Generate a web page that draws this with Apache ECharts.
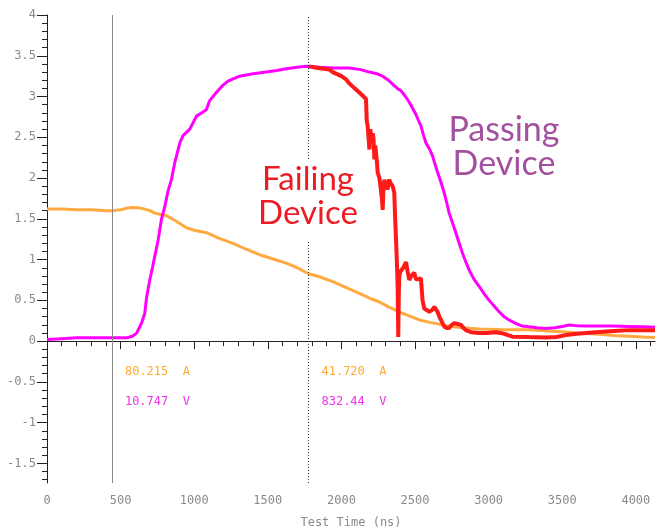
<!DOCTYPE html>
<html>
<head>
<meta charset="utf-8">
<script src="https://cdn.jsdelivr.net/npm/echarts@6/dist/echarts.min.js"></script>
<style>
html,body{margin:0;padding:0;background:#fff;}
#chart{width:656px;height:530px;}
</style>
</head>
<body>
<div id="chart"></div>
<script>
// ---- Data ----
var xTicks = [0, 500, 1000, 1500, 2000, 2500, 3000, 3500, 4000];
var yTicks = [-1.5, -1, -0.5, 0, 0.5, 1, 1.5, 2, 2.5, 3, 3.5, 4];

// Passing device voltage (magenta)
var passT = [0,100,200,300,400,540,580,608,642,664,676,698,716,732,755,777,800,822,845,868,902,924,970,1015,1060,1083,1105,1150,1190,1229,1308,1400,1489,1560,1625,1700,1760,1851,1950,2054,2130,2190,2240,2280,2320,2348,2380,2405,2435,2461,2485,2506,2525,2540,2557,2574,2600,2619,2636,2653,2676,2698,2715,2732,2755,2777,2800,2822,2845,2868,2900,2936,2970,3003,3037,3071,3105,3139,3180,3229,3275,3330,3388,3450,3500,3546,3600,3659,3750,3840,3950,4050,4130];
var passV = [0.02,0.03,0.04,0.04,0.04,0.04,0.06,0.095,0.22,0.34,0.53,0.75,0.9,1.04,1.24,1.49,1.65,1.84,1.98,2.19,2.43,2.52,2.6,2.76,2.81,2.84,2.95,3.05,3.13,3.19,3.25,3.28,3.3,3.32,3.34,3.36,3.37,3.36,3.35,3.35,3.33,3.3,3.28,3.25,3.2,3.15,3.1,3.07,3.0,2.93,2.85,2.78,2.7,2.64,2.53,2.43,2.35,2.27,2.17,2.07,1.95,1.82,1.7,1.57,1.45,1.33,1.2,1.08,0.97,0.87,0.76,0.67,0.58,0.5,0.43,0.36,0.3,0.26,0.22,0.185,0.175,0.165,0.156,0.165,0.18,0.197,0.19,0.185,0.185,0.185,0.18,0.175,0.17];

// Failing device voltage (red)
var failT = [1780,1840,1919,1941,2000,2032,2054,2090,2122,2150,2167,2172,2178,2184,2190,2196,2201,2207,2213,2218,2224,2230,2235,2241,2246,2258,2269,2275,2280,2286,2292,2303,2314,2320,2325,2336,2348,2359,2365,2371,2377,2382,2386,2390,2393,2399,2405,2420,2439,2450,2461,2475,2495,2505,2520,2540,2551,2563,2574,2597,2615,2631,2642,2653,2665,2676,2687,2698,2715,2732,2750,2766,2790,2811,2830,2845,2880,2936,2990,3049,3094,3130,3162,3275,3388,3460,3523,3600,3727,3850,3953,4050,4130];
var failV = [3.37,3.35,3.33,3.3,3.25,3.21,3.16,3.1,3.05,3.0,2.97,2.7,2.64,2.5,2.35,2.6,2.6,2.45,2.55,2.48,2.23,2.4,2.39,2.2,2.07,2.0,1.98,1.75,1.61,1.9,1.98,1.9,1.86,1.95,1.98,1.93,1.9,1.82,1.5,1.24,0.95,0.67,0.05,0.6,0.79,0.85,0.87,0.9,0.97,0.85,0.75,0.8,0.84,0.76,0.76,0.77,0.5,0.4,0.38,0.36,0.38,0.42,0.4,0.36,0.3,0.26,0.22,0.18,0.16,0.16,0.2,0.22,0.21,0.2,0.16,0.135,0.11,0.1,0.1,0.11,0.095,0.075,0.055,0.05,0.046,0.05,0.074,0.09,0.11,0.125,0.135,0.135,0.135];

// Current (orange)
var curT = [0,100,200,300,400,441,500,540,574,620,651,700,732,780,811,870,947,1000,1083,1170,1263,1350,1444,1530,1625,1700,1772,1850,1941,2030,2122,2200,2258,2320,2393,2460,2529,2600,2710,2820,2936,3100,3275,3400,3500,3600,3727,3850,3950,4050,4130];
var curV = [1.62,1.62,1.61,1.61,1.6,1.6,1.61,1.63,1.64,1.635,1.625,1.6,1.57,1.55,1.54,1.48,1.39,1.36,1.33,1.26,1.2,1.13,1.06,1.01,0.957,0.9,0.83,0.79,0.73,0.66,0.587,0.52,0.48,0.42,0.36,0.31,0.26,0.23,0.19,0.165,0.148,0.14,0.14,0.125,0.115,0.1,0.086,0.07,0.06,0.05,0.046];

var cursorTimes = [441, 1776];
var readouts = [["80.215  A", "10.747  V"], ["41.720  A", "832.44  V"]];
var xRange = [0, 4130];
var yRange = [-1.74, 4];

function zip(a, b) { return a.map(function (v, i) { return [v, b[i]]; }); }
function range(a, b, s) { var r = []; for (var v = a; v <= b + 1e-9; v += s) r.push(Math.round(v * 1000) / 1000); return r; }
var xMinor = range(0, 4100, 100);
var yMinor = range(-1.7, 4, 0.1);

var labelFont = { color: '#8a8a8a', fontFamily: 'DejaVu Sans Mono', fontSize: 12 };
var chart = echarts.init(document.getElementById('chart'), null, { renderer: 'canvas' });

var option = {
  animation: false,
  backgroundColor: '#fff',
  grid: { left: 47, right: 1, top: 15, bottom: 47, containLabel: false, outerBoundsMode: 'none' },
  xAxis: [
    {
      type: 'value', min: xRange[0], max: xRange[1], position: 'bottom',
      axisLine: { show: true, lineStyle: { color: '#222', width: 1 } },
      axisTick: { show: true, length: 8, customValues: xTicks, lineStyle: { color: '#222' } },
      axisLabel: Object.assign({ customValues: xTicks, margin: 12, formatter: function (v) { return String(v); } }, labelFont),
      splitLine: { show: false },
      name: 'Test Time (ns)', nameLocation: 'middle', nameGap: 34,
      nameTextStyle: { color: '#8a8a8a', fontFamily: 'DejaVu Sans Mono', fontSize: 12 }
    },
    {
      type: 'value', min: xRange[0], max: xRange[1], position: 'bottom',
      axisLine: { show: false },
      axisTick: { show: true, length: 5, customValues: xMinor, lineStyle: { color: '#222' } },
      axisLabel: { show: false }, splitLine: { show: false }
    }
  ],
  yAxis: [
    {
      type: 'value', min: yRange[0], max: yRange[1], position: 'left',
      axisLine: { show: true, lineStyle: { color: '#222', width: 1 } },
      axisTick: { show: true, length: 10, customValues: yTicks, lineStyle: { color: '#222' } },
      axisLabel: Object.assign({ customValues: yTicks, margin: 11, formatter: function (v) { return String(v); } }, labelFont),
      splitLine: { show: false }
    },
    {
      type: 'value', min: yRange[0], max: yRange[1], position: 'left',
      axisLine: { show: false },
      axisTick: { show: true, length: 5, customValues: yMinor, lineStyle: { color: '#222' } },
      axisLabel: { show: false }, splitLine: { show: false }
    }
  ],
  series: [
    {
      name: 'Current', type: 'line', data: zip(curT, curV), showSymbol: false,
      lineStyle: { color: '#ffaa40', width: 3 }, z: 3,
      markLine: {
        silent: true, symbol: ['none', 'none'], label: { show: false },
        data: [
          { xAxis: cursorTimes[0], lineStyle: { color: '#888', width: 1, type: 'solid' } },
          { xAxis: cursorTimes[1], lineStyle: { color: '#333', width: 1, type: [1, 2] } }
        ]
      }
    },
    {
      name: 'Passing', type: 'line', data: zip(passT, passV), showSymbol: false,
      lineStyle: { color: '#ff00ff', width: 3 }, z: 4
    },
    {
      name: 'Failing', type: 'line', data: zip(failT, failV), showSymbol: false,
      lineStyle: { color: '#ff1a1a', width: 4 }, z: 5
    }
  ]
};
chart.setOption(option);

// cursor readouts and annotations (positioned relative to cursors)
var g = [];
cursorTimes.forEach(function (t, i) {
  var px = chart.convertToPixel({ xAxisIndex: 0 }, t);
  g.push({ type: 'text', x: px + 13, y: 372, z: 50, style: { text: readouts[i][0], fill: '#ffaa33', font: '12px "DejaVu Sans Mono"', textVerticalAlign: 'middle' } });
  g.push({ type: 'text', x: px + 13, y: 402, z: 50, style: { text: readouts[i][1], fill: '#ee33ee', font: '12px "DejaVu Sans Mono"', textVerticalAlign: 'middle' } });
});
var cx = chart.convertToPixel({ xAxisIndex: 0 }, cursorTimes[1]);
g.push({ type: 'rect', z: 40, shape: { x: cx - 4, y: 160, width: 8, height: 82 }, style: { fill: '#fff' } });
g.push({ type: 'text', z: 50, x: 308, y: 162, style: { text: 'Failing\nDevice', fill: '#ec1c24', font: '33px Lato', lineHeight: 34, textAlign: 'center', textVerticalAlign: 'top' } });
g.push({ type: 'text', z: 50, x: 504, y: 113, style: { text: 'Passing\nDevice', fill: '#a3519f', font: '34px Lato', lineHeight: 34, textAlign: 'center', textVerticalAlign: 'top' } });
chart.setOption({ graphic: g });
</script>
</body>
</html>
